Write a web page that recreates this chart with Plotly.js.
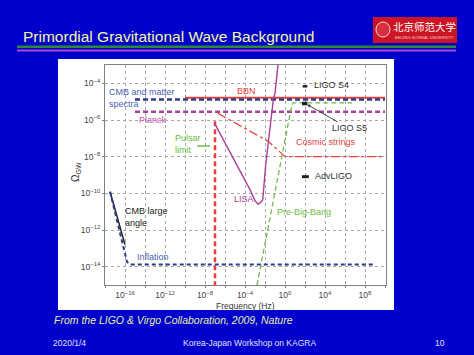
<!DOCTYPE html>
<html><head><meta charset="utf-8">
<script src="https://cdn.plot.ly/plotly-3.0.1.min.js"></script>
<style>html,body{margin:0;padding:0;background:#0000cc;}#chart{width:474px;height:355px;}</style>
</head><body><div id="chart"></div>
<script>
// ---- data (frequency in Hz, Omega_GW) ----
const cmbFreq = [1e-15, 1e10];
const cmbOmega = [1.3e-5, 1.3e-5];
const bbnFreq = [1e-10, 1e10];
const bbnOmega = [1.65e-5, 1.65e-5];
const planckFreq = [1e-15, 1e10];
const planckOmega = [2.8e-6, 2.8e-6];
const lisaFreq = [1e-7, 1.26e-5, 3.16e-4, 1e-3, 2.0e-3, 3.55e-3, 5.9e-3, 1.17e-2, 2.14e-2, 3.16e-2, 4.68e-2, 6.76e-2, 0.1, 0.2];
const lisaOmega = [5.9e-7, 4.5e-9, 1.6e-10, 4.0e-11, 2.5e-11, 3.2e-11, 4.4e-11, 3.5e-9, 7.1e-8, 3.5e-7, 4.4e-6, 1.26e-5, 2.9e-5, 1e-3];
const stringsFreq = [2e-7, 2e-2, 1, 1e10];
const stringsOmega = [2.3e-6, 7e-8, 1e-8, 1e-8];
const stringsLowFreq = [1e-7, 1e-7];
const stringsLowOmega = [8.5e-7, 1e-15];
const pbbFreq = [1.6e-3, 4.7e-2, 0.47, 4.7, 6.3, 5e6];
const pbbOmega = [1e-15, 1.2e-11, 8.9e-9, 6.3e-6, 8.5e-6, 8.5e-6];
const cmbLargeFreq = [3.2e-18, 1e-16];
const cmbLargeOmega = [1.23e-10, 1.6e-13];
const inflationFreq = [3.2e-18, 1.6e-16, 3.2e-16, 1e9];
const inflationOmega = [1.23e-10, 1.8e-14, 1.3e-14, 1.3e-14];
const pulsarFreq = [1.6e-9, 3.2e-8];
const pulsarOmega = [3.8e-8, 3.8e-8];
const ligoS4Freq = [59, 170];
const ligoS4Omega = [6.9e-5, 6.9e-5];
const ligoS5Freq = [50, 170];
const ligoS5Omega = [7.9e-6, 7.9e-6];
const advLigoFreq = [50, 240];
const advLigoOmega = [8.1e-10, 8.1e-10];

const xTickVals = [1e-18,1e-16,1e-14,1e-12,1e-10,1e-8,1e-6,1e-4,1e-2,1,1e2,1e4,1e6,1e8,1e10];
const xTickText = ['', '10<sup>−16</sup>', '', '10<sup>−12</sup>', '', '10<sup>−8</sup>', '', '10<sup>−4</sup>', '', '10<sup>0</sup>', '', '10<sup>4</sup>', '', '10<sup>8</sup>', ''];
const yTickVals = [1e-14,1e-12,1e-10,1e-8,1e-6,1e-4];
const yTickText = ['10<sup>−14</sup>','10<sup>−12</sup>','10<sup>−10</sup>','10<sup>−8</sup>','10<sup>−6</sup>','10<sup>−4</sup>'];

// ---- styling ----
const NAVY = '#2b3c8c', RED = '#e8403a', PURPLE = '#a8409a', GREEN = '#72b84a', BLACK = '#222';
function ln(x, y, color, width, dash){
  return {x:x, y:y, type:'scatter', mode:'lines', hoverinfo:'skip', showlegend:false,
          line:{color:color, width:width, dash:dash||'solid'}};
}
const traces = [
  ln(bbnFreq, bbnOmega, RED, 2),
  ln(cmbFreq, cmbOmega, NAVY, 2.5, '5px,3px'),
  ln(planckFreq, planckOmega, PURPLE, 2.5, '5px,3px'),
  ln(stringsLowFreq, stringsLowOmega, RED, 2.5, '5px,3px'),
  ln(stringsFreq, stringsOmega, RED, 1.3, 'dashdot'),
  ln(lisaFreq, lisaOmega, PURPLE, 1.4),
  ln(pbbFreq, pbbOmega, GREEN, 1.3, '5px,3px'),
  ln(cmbLargeFreq, cmbLargeOmega, BLACK, 1.5),
  ln(inflationFreq, inflationOmega, NAVY, 2, '4px,3px'),
  ln(pulsarFreq, pulsarOmega, GREEN, 1.5),
  ln(ligoS4Freq, ligoS4Omega, BLACK, 2.5),
  ln(ligoS5Freq, ligoS5Omega, BLACK, 3.5),
  ln(advLigoFreq, advLigoOmega, BLACK, 3)
];

function px(x){ return (x-105)/281; }
function py(y){ return (285-y)/220; }
const FONT = 'Liberation Sans, Arial, sans-serif';
function lab(text, x, y, color, opts){
  return Object.assign({text:text, x:x, y:y, xref:'x', yref:'y', showarrow:false, xanchor:'left', yanchor:'middle',
    align:'left', font:{family:FONT, size:9, color:color}}, opts||{});
}
function plab(text, x, y, color, size, opts){
  return Object.assign({text:text, x:px(x), y:py(y), xref:'paper', yref:'paper', showarrow:false,
    xanchor:'left', yanchor:'middle', align:'left', font:{family:FONT, size:size, color:color}}, opts||{});
}

const annotations = [
  lab('CMB and matter<br>spectra', -17.85, -4.82, '#4a5fb0'),
  lab('BBN', -5.0, -4.43, RED),
  lab('Planck', -14.8, -6.0, '#c050b0'),
  lab('Pulsar<br>limit', -11.2, -7.3, GREEN),
  lab('LISA', -5.3, -10.3, PURPLE),
  lab('Pre-Big-Bang', -1.0, -11.0, GREEN),
  lab('Cosmic strings', 0.9, -7.2, RED),
  lab('LIGO S4', 2.7, -4.1, '#333'),
  lab('AdvLIGO', 2.8, -9.05, '#333'),
  lab('CMB large<br>angle', -16.2, -11.28, '#222'),
  lab('Inflation', -15.0, -13.46, '#4a5fb0'),
  {text:'LIGO S5', x:2.2, y:-5.15, xref:'x', yref:'y', showarrow:true, ax:42, ay:24,
   arrowhead:2, arrowsize:0.7, arrowwidth:1, arrowcolor:'#444', font:{family:FONT,size:9,color:'#333'}},
  // axis titles
  plab('Frequency (Hz)', 245, 305.5, '#333', 8.5, {xanchor:'center'}),
  plab('Ω<sub>GW</sub>', 76, 172, '#333', 10, {xanchor:'center', textangle:-90}),
  // slide texts
  plab('Primordial Gravitational Wave Background', 21, 36, '#f6f6a0', 15.5),
  plab('<i>From the LIGO &amp; Virgo Collaboration, 2009, Nature</i>', 52, 320, '#e4eea8', 10.5),
  plab('2020/1/4', 51, 343, '#e0e0ff', 8.5),
  plab('Korea-Japan Workshop on KAGRA', 249, 343, '#e0e0ff', 8.5, {xanchor:'center'}),
  plab('10', 440, 343, '#e0e0ff', 8.5, {xanchor:'center'}),
  plab('北京师范大学', 424, 26, '#ffffff', 10.5, {xanchor:'center', font:{family:'Noto Sans CJK SC', size:10.5, color:'#fff'}}),
  plab('BEIJING NORMAL UNIVERSITY', 424, 37, '#f4d0d0', 4, {xanchor:'center'})
];

const shapes = [
  {type:'rect', xref:'paper', yref:'paper', x0:px(58), x1:px(394), y0:py(310), y1:py(59), fillcolor:'#ffffff', line:{width:0}, layer:'below'},
  {type:'rect', xref:'paper', yref:'paper', x0:px(17), x1:px(456), y0:py(48), y1:py(45.5), fillcolor:'#2a8a3a', line:{width:0}},
  {type:'rect', xref:'paper', yref:'paper', x0:px(17), x1:px(456), y0:py(51.5), y1:py(49.5), fillcolor:'#b048c8', line:{width:0}},
  {type:'rect', xref:'paper', yref:'paper', x0:px(373), x1:px(457), y0:py(43), y1:py(17), fillcolor:'#cc1424', line:{width:0}},
  {type:'circle', xref:'paper', yref:'paper', x0:px(376), x1:px(390), y0:py(37), y1:py(22), fillcolor:'#d83040', line:{color:'#f8d8d8', width:1}}
];

const axisCommon = {type:'log', showgrid:true, gridcolor:'#a8a8a8', griddash:'dot', gridwidth:1,
  showline:true, linecolor:'#808080', linewidth:1, mirror:true, ticks:'outside', ticklen:2, tickcolor:'#808080',
  tickfont:{family:FONT, size:8.5, color:'#444'}, zeroline:false, tickmode:'array'};

const layout = {
  width:474, height:355, margin:{l:105, r:88, t:65, b:70},
  paper_bgcolor:'#0000cc', plot_bgcolor:'#ffffff', showlegend:false,
  xaxis:Object.assign({}, axisCommon, {range:[-18, 10.1], tickvals:xTickVals, ticktext:xTickText}),
  yaxis:Object.assign({}, axisCommon, {range:[-15, -3], tickvals:yTickVals, ticktext:yTickText}),
  annotations:annotations, shapes:shapes
};
Plotly.newPlot('chart', traces, layout, {staticPlot:true, displayModeBar:false});
</script></body></html>
